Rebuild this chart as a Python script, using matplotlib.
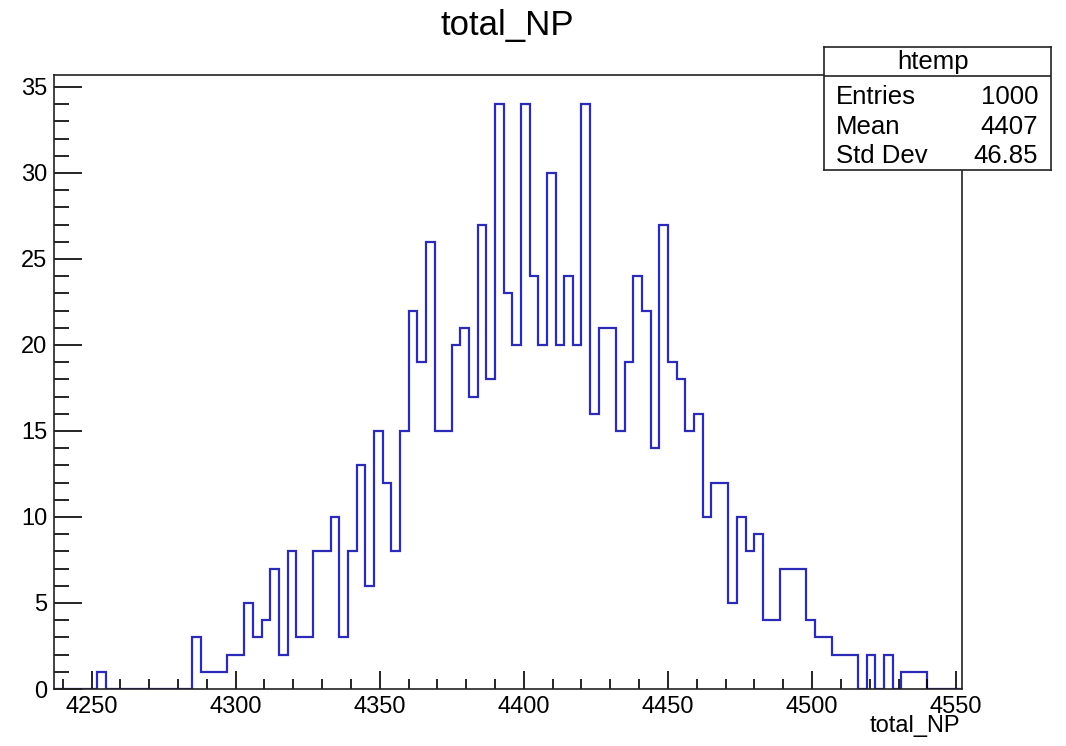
import numpy as np
import matplotlib
matplotlib.use("Agg")
import matplotlib.pyplot as plt
from matplotlib.ticker import MultipleLocator

plt.rcParams['font.family'] = ['Liberation Sans', 'DejaVu Sans']

# binning of htemp: 105 bins of width 3 starting at 4237
x_min = 4237
bin_width = 3
n_bins = 105

# bin contents, bin 0 .. bin 104
counts = [0, 0, 0, 0, 0, 1, 0, 0, 0, 0,
          0, 0, 0, 0, 0, 0, 3, 1, 1, 1,
          2, 2, 5, 3, 4, 7, 2, 8, 3, 3,
          8, 8, 10, 3, 8, 13, 6, 15, 12, 8,
          15, 22, 19, 26, 15, 15, 20, 21, 17, 27,
          18, 34, 23, 20, 34, 24, 20, 30, 20, 24,
          20, 34, 16, 21, 21, 15, 19, 24, 22, 14,
          27, 19, 18, 15, 16, 10, 12, 12, 5, 10,
          8, 9, 4, 4, 7, 7, 7, 4, 3, 3,
          2, 2, 2, 0, 2, 0, 2, 0, 1, 1,
          1, 0, 0, 0, 0]

stat_names = ["Entries", "Mean", "Std Dev"]
stat_values = ["1000", "4407", "46.85"]

edges = x_min + bin_width * np.arange(n_bins + 1)

fig = plt.figure(figsize=(10.66, 7.46), dpi=100)
ax = fig.add_axes([0.0507, 0.0764, 0.8517, 0.8232])

ax.stairs(counts, edges, color='#2b2bb8', linewidth=1.6, baseline=0)

ax.set_xlim(edges[0], edges[-1])
ax.set_ylim(0, 1.05 * max(counts))

ax.xaxis.set_major_locator(MultipleLocator(50))
ax.xaxis.set_minor_locator(MultipleLocator(10))
ax.yaxis.set_major_locator(MultipleLocator(5))
ax.yaxis.set_minor_locator(MultipleLocator(1))

ax.tick_params(axis='x', which='major', direction='in', length=13, width=1.2,
               labelsize=17, pad=5, top=False)
ax.tick_params(axis='x', which='minor', direction='in', length=7, width=1.2, top=False)
ax.tick_params(axis='y', which='major', direction='in', length=20, width=1.2,
               labelsize=17, pad=5, right=False)
ax.tick_params(axis='y', which='minor', direction='in', length=11, width=1.2, right=False)

for s in ax.spines.values():
    s.set_linewidth(1.2)
    s.set_color('#222222')

fig.text(0.4756, 0.953, "total_NP", fontsize=25, ha='center', va='baseline')
fig.text(0.9006, 0.0188, "total_NP", fontsize=17, ha='right', va='baseline')

# stats box
sb = fig.add_axes([0.7733, 0.7721, 0.2123, 0.1653])
sb.set_xlim(0, 1)
sb.set_ylim(0, 1)
sb.set_xticks([])
sb.set_yticks([])
sb.set_facecolor('white')
for s in sb.spines.values():
    s.set_linewidth(1.2)
    s.set_color('#222222')
sb.axhline(0.762, color='#222222', linewidth=1.2)
sb.text(0.48, 0.818, "htemp", fontsize=18.5, ha='center', va='baseline')
for i, (name, val) in enumerate(zip(stat_names, stat_values)):
    y = [0.535, 0.292, 0.054][i]
    sb.text(0.05, y, name, fontsize=18.5, ha='left', va='baseline')
    sb.text(0.945, y, val, fontsize=18.5, ha='right', va='baseline')

plt.savefig("out.png", dpi=100)
